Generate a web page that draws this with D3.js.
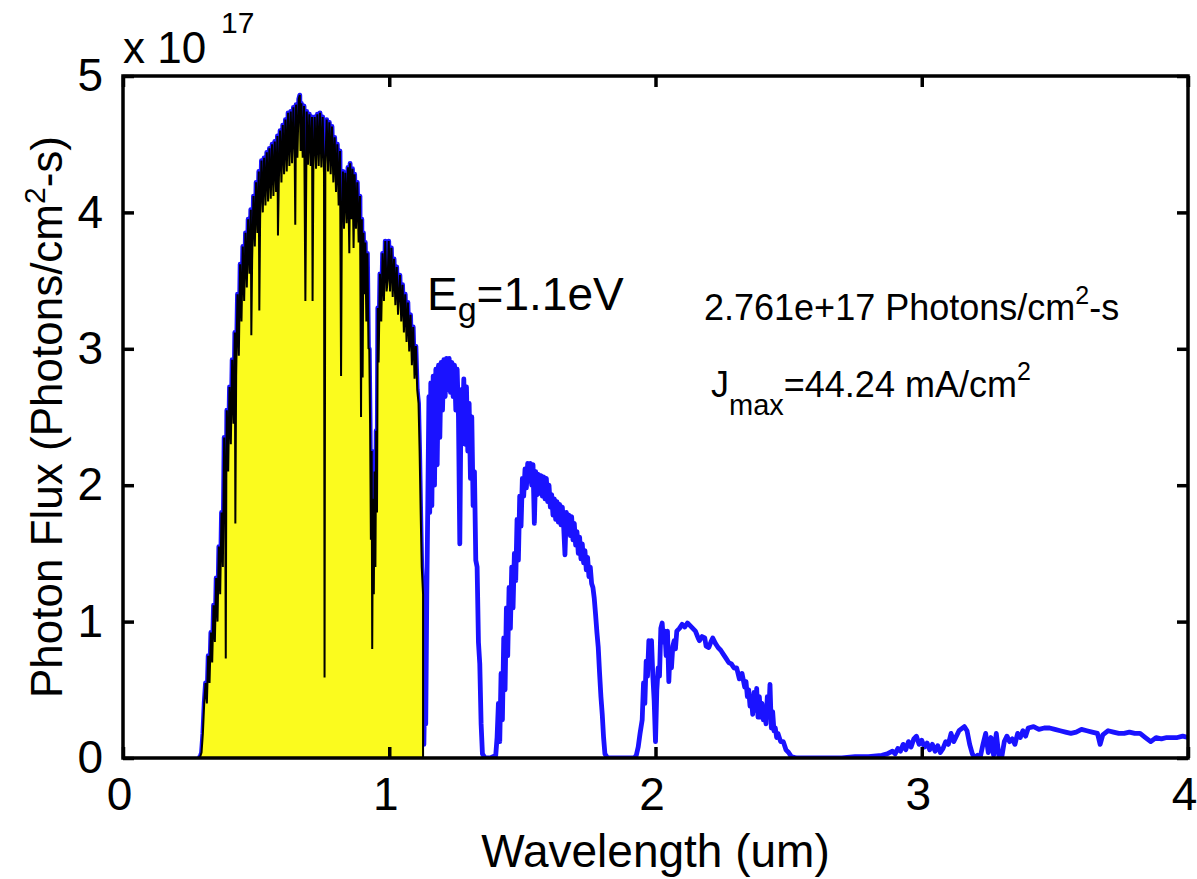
<!DOCTYPE html>
<html>
<head>
<meta charset="utf-8">
<script src="https://cdn.jsdelivr.net/npm/d3@7"></script>
<style>
  body { margin: 0; background: #fff; }
  text { font-family: 'Liberation Sans', Arial, Helvetica, sans-serif; fill: #000; }
</style>
</head>
<body>
<div id="chart"></div>
<script>
// AM1.5 photon flux, [wavelength (um), flux (x 1e17 photons/cm2-s)]

// UV / visible / near IR up to the band gap cutoff (filled part)
const band1 = [
  [0.280, 0.00], [0.285, 0.00], [0.290, 0.01], [0.295, 0.04], [0.300, 0.18], [0.305, 0.40],
  [0.310, 0.55], [0.315, 0.40], [0.320, 0.75], [0.325, 0.55], [0.330, 0.92], [0.335, 0.70],
  [0.340, 1.12], [0.345, 0.85], [0.350, 1.32], [0.355, 1.00], [0.360, 1.55], [0.365, 1.20],
  [0.370, 1.80], [0.375, 1.40], [0.380, 2.35], [0.384, 1.85], [0.386, 0.73], [0.388, 2.05],
  [0.390, 2.55], [0.395, 2.10], [0.400, 2.72], [0.405, 2.30], [0.410, 2.92], [0.415, 2.45],
  [0.420, 3.12], [0.422, 1.72], [0.425, 2.80], [0.430, 3.40], [0.435, 2.95], [0.440, 3.62],
  [0.445, 3.20], [0.450, 3.75], [0.455, 3.35], [0.460, 3.85], [0.465, 3.45], [0.470, 3.95],
  [0.475, 3.55], [0.480, 4.02], [0.482, 3.10], [0.485, 3.65], [0.490, 4.12], [0.495, 3.75],
  [0.500, 4.22], [0.505, 3.85], [0.510, 4.30], [0.512, 3.28], [0.515, 3.95], [0.520, 4.38],
  [0.525, 4.00], [0.530, 4.40], [0.535, 4.05], [0.540, 4.44], [0.545, 4.08], [0.550, 4.47],
  [0.555, 4.10], [0.560, 4.50], [0.565, 4.12], [0.570, 4.52], [0.575, 4.15], [0.580, 4.56],
  [0.582, 3.83], [0.585, 4.20], [0.590, 4.60], [0.595, 4.22], [0.600, 4.64], [0.605, 4.28],
  [0.610, 4.68], [0.615, 4.30], [0.620, 4.73], [0.625, 4.34], [0.630, 4.74], [0.635, 4.36],
  [0.640, 4.77], [0.645, 4.38], [0.647, 3.91], [0.650, 4.79], [0.655, 4.40], [0.660, 4.83],
  [0.664, 4.86], [0.667, 4.45], [0.670, 4.80], [0.675, 4.40], [0.680, 4.78], [0.685, 3.35],
  [0.690, 4.74], [0.695, 4.35], [0.700, 4.72], [0.705, 4.34], [0.710, 4.70], [0.712, 3.35],
  [0.715, 4.33], [0.720, 4.70], [0.725, 4.32], [0.730, 4.72], [0.735, 4.34], [0.740, 4.73],
  [0.745, 4.33], [0.750, 4.70], [0.755, 4.28], [0.757, 0.59], [0.760, 4.35], [0.765, 4.68],
  [0.770, 4.30], [0.775, 4.66], [0.780, 4.28], [0.785, 4.63], [0.790, 4.22], [0.795, 4.55],
  [0.800, 4.15], [0.805, 4.50], [0.810, 4.05], [0.815, 4.45], [0.819, 2.80], [0.822, 3.95],
  [0.826, 4.30], [0.830, 3.88], [0.835, 4.29], [0.840, 3.92], [0.845, 4.33], [0.850, 3.70],
  [0.853, 4.36], [0.858, 3.95], [0.862, 4.32], [0.866, 3.74], [0.870, 4.28], [0.875, 3.88],
  [0.880, 4.22], [0.885, 3.78], [0.890, 4.12], [0.894, 2.50], [0.897, 3.95], [0.900, 2.79],
  [0.903, 3.85], [0.907, 3.40], [0.910, 3.78], [0.914, 3.20], [0.918, 3.70], [0.922, 3.00],
  [0.925, 3.00], [0.928, 2.45], [0.931, 1.60], [0.934, 2.25], [0.936, 0.80], [0.939, 1.90],
  [0.942, 1.20], [0.945, 2.10], [0.948, 1.40], [0.951, 2.40], [0.954, 1.80], [0.957, 3.30],
  [0.960, 2.90], [0.965, 3.55], [0.970, 3.20], [0.975, 3.70], [0.980, 3.35], [0.985, 3.79],
  [0.990, 3.42], [0.994, 3.50], [0.998, 3.79], [1.003, 3.42], [1.008, 3.74], [1.013, 3.38],
  [1.018, 3.66], [1.023, 3.32], [1.028, 3.60], [1.033, 3.25], [1.040, 3.54], [1.045, 3.20],
  [1.050, 3.47], [1.055, 3.12], [1.060, 3.40], [1.065, 3.05], [1.070, 3.34], [1.075, 2.98],
  [1.080, 3.25], [1.085, 2.88], [1.090, 3.16], [1.095, 2.78], [1.100, 3.02], [1.105, 2.70],
  [1.110, 2.60], [1.114, 2.25], [1.118, 1.80], [1.122, 1.40], [1.127, 1.20]
]

// 1.13 - 1.40 um
const band2 = [
  [1.130, 0.10], [1.134, 0.60], [1.137, 0.25], [1.141, 1.20], [1.145, 1.90], [1.149, 2.65],
  [1.152, 1.80], [1.156, 2.75], [1.160, 1.85], [1.165, 2.80], [1.170, 2.00], [1.175, 2.85],
  [1.180, 2.15], [1.185, 2.88], [1.190, 2.35], [1.195, 2.90], [1.200, 2.55], [1.205, 2.92],
  [1.210, 2.65], [1.215, 2.93], [1.220, 2.70], [1.225, 2.93], [1.230, 2.68], [1.235, 2.90],
  [1.240, 2.65], [1.245, 2.88], [1.250, 2.55], [1.255, 2.85], [1.260, 2.50], [1.265, 1.57],
  [1.270, 2.70], [1.275, 2.35], [1.280, 2.78], [1.285, 2.30], [1.290, 2.72], [1.295, 2.25],
  [1.300, 2.60], [1.305, 2.05], [1.310, 2.50], [1.315, 1.85], [1.320, 2.10], [1.325, 1.45],
  [1.330, 1.40], [1.335, 0.85], [1.340, 0.69], [1.345, 0.25], [1.350, 0.03], [1.360, 0.00],
  [1.370, 0.00], [1.380, 0.00], [1.390, 0.01]
]

// 1.40 - 1.92 um
const band3 = [
  [1.400, 0.02], [1.405, 0.15], [1.410, 0.40], [1.415, 0.12], [1.420, 0.62], [1.425, 0.28],
  [1.430, 0.88], [1.435, 0.50], [1.440, 1.10], [1.445, 0.75], [1.450, 1.25], [1.455, 0.95],
  [1.460, 1.40], [1.465, 1.10], [1.470, 1.50], [1.475, 1.30], [1.480, 1.75], [1.485, 1.45],
  [1.490, 1.92], [1.495, 1.70], [1.500, 2.05], [1.505, 1.92], [1.510, 2.12], [1.515, 1.98],
  [1.520, 2.16], [1.525, 2.03], [1.530, 2.16], [1.535, 2.00], [1.540, 2.15], [1.545, 1.72],
  [1.550, 2.10], [1.555, 1.93], [1.560, 2.08], [1.565, 1.94], [1.570, 2.07], [1.575, 1.92],
  [1.580, 2.06], [1.585, 1.90], [1.590, 2.05], [1.595, 1.88], [1.600, 2.00], [1.605, 1.84],
  [1.610, 1.93], [1.615, 1.78], [1.620, 1.90], [1.625, 1.75], [1.630, 1.88], [1.635, 1.73],
  [1.640, 1.86], [1.645, 1.71], [1.650, 1.84], [1.655, 1.70], [1.660, 1.49], [1.665, 1.80],
  [1.670, 1.66], [1.675, 1.78], [1.680, 1.63], [1.685, 1.77], [1.690, 1.60], [1.695, 1.72],
  [1.700, 1.56], [1.705, 1.66], [1.710, 1.50], [1.715, 1.62], [1.720, 1.46], [1.725, 1.57],
  [1.730, 1.43], [1.735, 1.52], [1.740, 1.38], [1.745, 1.47], [1.750, 1.33], [1.755, 1.40],
  [1.760, 1.28], [1.765, 1.25], [1.770, 1.17], [1.775, 1.05], [1.780, 0.92], [1.785, 0.81],
  [1.790, 0.62], [1.795, 0.45], [1.800, 0.32], [1.805, 0.15], [1.810, 0.03], [1.820, 0.00],
  [1.840, 0.00], [1.860, 0.00], [1.880, 0.00], [1.900, 0.00], [1.920, 0.00]
]

// 1.92 - 2.55 um
const band4 = [
  [1.928, 0.02], [1.935, 0.08], [1.942, 0.18], [1.950, 0.28], [1.955, 0.55], [1.960, 0.40],
  [1.965, 0.71], [1.970, 0.60], [1.975, 0.86], [1.980, 0.82], [1.985, 0.86], [1.990, 0.60],
  [1.995, 0.42], [2.000, 0.12], [2.005, 0.50], [2.010, 0.66], [2.015, 0.60], [2.020, 0.95],
  [2.025, 0.99], [2.030, 0.85], [2.035, 0.93], [2.040, 0.75], [2.045, 0.93], [2.050, 0.56],
  [2.055, 0.80], [2.060, 0.66], [2.065, 0.82], [2.070, 0.86], [2.075, 0.80], [2.080, 0.93],
  [2.090, 0.95], [2.100, 0.98], [2.110, 0.96], [2.120, 0.99], [2.130, 0.97], [2.140, 0.95],
  [2.150, 0.93], [2.160, 0.88], [2.165, 0.86], [2.175, 0.89], [2.185, 0.88], [2.190, 0.82],
  [2.200, 0.81], [2.210, 0.86], [2.215, 0.88], [2.225, 0.84], [2.235, 0.81], [2.245, 0.79],
  [2.255, 0.76], [2.265, 0.73], [2.275, 0.70], [2.285, 0.69], [2.295, 0.66], [2.305, 0.66],
  [2.315, 0.58], [2.325, 0.62], [2.335, 0.52], [2.340, 0.56], [2.345, 0.45], [2.350, 0.50],
  [2.355, 0.38], [2.360, 0.45], [2.365, 0.32], [2.370, 0.48], [2.375, 0.35], [2.380, 0.51],
  [2.385, 0.30], [2.390, 0.45], [2.395, 0.30], [2.400, 0.40], [2.405, 0.28], [2.410, 0.37],
  [2.415, 0.25], [2.420, 0.45], [2.425, 0.30], [2.430, 0.54], [2.435, 0.22], [2.440, 0.34],
  [2.445, 0.20], [2.450, 0.22], [2.455, 0.15], [2.460, 0.18], [2.470, 0.12], [2.480, 0.12],
  [2.490, 0.06], [2.500, 0.04], [2.510, 0.01], [2.530, 0.00]
]

// 2.55 - 4.0 um
const band5 = [
  [2.550, 0.00], [2.600, 0.00], [2.650, 0.00], [2.700, 0.00], [2.750, 0.01], [2.800, 0.01],
  [2.850, 0.02], [2.870, 0.03], [2.890, 0.05], [2.900, 0.03], [2.910, 0.07], [2.920, 0.05],
  [2.930, 0.10], [2.940, 0.06], [2.950, 0.12], [2.960, 0.08], [2.970, 0.14], [2.980, 0.16],
  [2.990, 0.10], [3.000, 0.13], [3.010, 0.08], [3.020, 0.11], [3.030, 0.06], [3.040, 0.10],
  [3.050, 0.05], [3.060, 0.09], [3.070, 0.04], [3.080, 0.07], [3.090, 0.12], [3.100, 0.10],
  [3.110, 0.18], [3.120, 0.12], [3.140, 0.20], [3.160, 0.23], [3.170, 0.20], [3.180, 0.10],
  [3.190, 0.03], [3.200, 0.00], [3.210, 0.02], [3.220, 0.01], [3.230, 0.10], [3.240, 0.18],
  [3.250, 0.04], [3.260, 0.15], [3.270, 0.02], [3.280, 0.18], [3.290, 0.01], [3.300, 0.00],
  [3.310, 0.12], [3.320, 0.16], [3.330, 0.12], [3.340, 0.14], [3.350, 0.10], [3.360, 0.18],
  [3.370, 0.15], [3.380, 0.20], [3.390, 0.16], [3.400, 0.22], [3.420, 0.23], [3.440, 0.21],
  [3.460, 0.22], [3.480, 0.22], [3.500, 0.21], [3.520, 0.20], [3.540, 0.19], [3.560, 0.18],
  [3.580, 0.19], [3.600, 0.21], [3.620, 0.20], [3.640, 0.19], [3.660, 0.18], [3.670, 0.10],
  [3.680, 0.17], [3.700, 0.20], [3.720, 0.19], [3.740, 0.18], [3.760, 0.18], [3.780, 0.19],
  [3.800, 0.18], [3.820, 0.18], [3.840, 0.15], [3.860, 0.12], [3.880, 0.15], [3.900, 0.14],
  [3.920, 0.15], [3.940, 0.15], [3.960, 0.15], [3.980, 0.16], [4.000, 0.15]
]

const xTicks = [0, 1, 2, 3, 4]
const yTicks = [0, 1, 2, 3, 4, 5]
const bandgap = 1.1 // eV
const cutoff = 1.24 / bandgap // um
const totalFlux = '2.761e+17'
const jmax = '44.24'

const margin = { top: 76, left: 123, right: 9, bottom: 121 }
const width = 1197 - margin.left - margin.right
const height = 879 - margin.top - margin.bottom

const root = d3
  .select('#chart')
  .append('svg')
  .attr('width', 1197)
  .attr('height', 879)

const svg = root
  .append('g')
  .attr('transform', 'translate(' + margin.left + ',' + margin.top + ')')

svg
  .append('clipPath')
  .attr('id', 'clip')
  .append('rect')
  .attr('width', width)
  .attr('height', height)

const xScale = d3.scaleLinear().domain([0, 4]).range([0, width])
const yScale = d3.scaleLinear().domain([0, 5]).range([height, 0])

const spectrum = band1.concat(band2, band3, band4, band5)

const line = d3
  .line()
  .x(d => xScale(d[0]))
  .y(d => yScale(d[1]))

const area = d3
  .area()
  .x(d => xScale(d[0]))
  .y0(yScale(0))
  .y1(d => yScale(d[1]))

// full spectrum in blue
svg
  .append('path')
  .datum(spectrum)
  .attr('d', line)
  .attr('fill', 'none')
  .attr('stroke', '#1a12ff')
  .attr('stroke-width', 4.8)
  .attr('stroke-linejoin', 'round')
  .attr('clip-path', 'url(#clip)')

// absorbed part (above the band gap) in yellow with black edge
svg
  .append('path')
  .datum(spectrum.filter(d => d[0] <= cutoff))
  .attr('d', area)
  .attr('fill', '#fbfb1e')
  .attr('stroke', '#000')
  .attr('stroke-width', 2)
  .attr('stroke-linejoin', 'bevel')

// axes, ticks inside on all four sides
const tickLen = -11

svg
  .append('g')
  .attr('class', 'x-axis')
  .attr('transform', `translate(0,${height})`)
  .call(d3.axisBottom(xScale).tickValues(xTicks).tickSize(tickLen).tickPadding(19).tickFormat(d3.format('d')))

svg.append('g').call(d3.axisTop(xScale).tickValues(xTicks).tickSize(tickLen).tickFormat(''))

svg
  .append('g')
  .call(d3.axisLeft(yScale).tickValues(yTicks).tickSize(tickLen).tickPadding(20).tickFormat(d3.format('d')))

svg
  .append('g')
  .attr('transform', `translate(${width},0)`)
  .call(d3.axisRight(yScale).tickValues(yTicks).tickSize(tickLen).tickFormat(''))

svg.selectAll('.domain').remove()
svg.selectAll('.tick line').attr('stroke', '#000').attr('stroke-width', 3.5)
svg
  .selectAll('.tick text')
  .attr('fill', '#000')
  .style('font-size', '46px')
  .style('font-family', "'Liberation Sans', Arial, sans-serif")
svg.selectAll('.x-axis .tick text').attr('x', -4)

svg
  .append('rect')
  .attr('width', width)
  .attr('height', height)
  .attr('fill', 'none')
  .attr('stroke', '#000')
  .attr('stroke-width', 3.5)

// exponent
svg
  .append('text')
  .attr('x', 0)
  .attr('y', -13)
  .style('font-size', '44px')
  .text('x 10')

svg
  .append('text')
  .attr('x', 98)
  .attr('y', -43)
  .style('font-size', '30px')
  .text('17')

// axis titles
svg
  .append('text')
  .attr('x', width / 2)
  .attr('y', height + 109)
  .attr('text-anchor', 'middle')
  .style('font-size', '46px')
  .text('Wavelength (um)')

const yTitle = svg
  .append('text')
  .attr('transform', 'rotate(-90)')
  .attr('x', -height / 2)
  .attr('y', -61)
  .attr('text-anchor', 'middle')
  .style('font-size', '44px')

yTitle.append('tspan').text('Photon Flux (Photons/cm')
yTitle.append('tspan').attr('dy', -17).style('font-size', '30px').text('2')
yTitle.append('tspan').attr('dy', 17).text('-s)')

// annotations
const eg = svg
  .append('text')
  .attr('x', 304)
  .attr('y', 234)
  .style('font-size', '46px')

eg.append('tspan').text('E')
eg.append('tspan').attr('dy', 11).style('font-size', '34px').text('g')
eg.append('tspan').attr('dy', -11).text('=' + bandgap + 'eV')

const fluxText = svg
  .append('text')
  .attr('x', 581)
  .attr('y', 244)
  .style('font-size', '36px')

fluxText.append('tspan').text(totalFlux + ' Photons/cm')
fluxText.append('tspan').attr('dy', -16).style('font-size', '25px').text('2')
fluxText.append('tspan').attr('dy', 16).text('-s')

const jText = svg
  .append('text')
  .attr('x', 588)
  .attr('y', 321)
  .style('font-size', '36px')

jText.append('tspan').text('J')
jText.append('tspan').attr('dy', 18).style('font-size', '29px').text('max')
jText.append('tspan').attr('dy', -18).text('=' + jmax + ' mA/cm')
jText.append('tspan').attr('dy', -17).style('font-size', '25px').text('2')
</script>
</body>
</html>
